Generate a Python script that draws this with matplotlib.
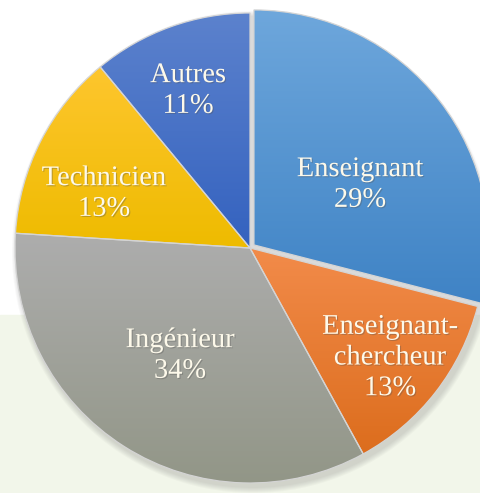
import numpy as np
import matplotlib.pyplot as plt
import matplotlib.patheffects as pe
from matplotlib.patches import Rectangle, Circle
from matplotlib.colors import LinearSegmentedColormap

labels = ['Enseignant', 'Enseignant-\nchercheur', 'Ingénieur', 'Technicien', 'Autres']
values = [29, 13, 34, 13, 11]
top_colors = ['#6ea7dc', '#f28b4a', '#adadad', '#fec62e', '#5c82cd']
bottom_colors = ['#3f83c5', '#dc6d1d', '#929687', '#eebb00', '#3462bf']

# label centres, in image pixels (x, y from top)
label_xy = [(360, 185), (390, 358), (180, 356), (104, 194), (188, 91)]

W, H = 481, 493
fig = plt.figure(figsize=(W / 100, H / 100), dpi=100)
fig.patches.append(Rectangle((0, 0), 1, (H - 315) / H, transform=fig.transFigure,
                             color='#f2f6ea', zorder=-5))
ax = fig.add_axes([0, 0, 1, 1])
ax.patch.set_alpha(0)

center = (250, H - 248)
radius = 235

# soft shadow
for k in range(6):
    ax.add_patch(Circle((center[0] + 3, center[1] - 4), radius + 1 + k, color='#808080',
                        alpha=0.05, lw=0, zorder=0.5))

wedges, _ = ax.pie(values, center=center, radius=radius, startangle=90, counterclock=False,
                   explode=[5, 0, 0, 0, 0],
                   wedgeprops=dict(edgecolor='#d4d4d4', linewidth=0.9))

grad = np.linspace(0, 1, 256).reshape(-1, 1)
for w, ct, cb in zip(wedges, top_colors, bottom_colors):
    verts = w.get_patch_transform().transform(w.get_path().vertices)
    x0, x1 = verts[:, 0].min(), verts[:, 0].max()
    y0, y1 = verts[:, 1].min(), verts[:, 1].max()
    cmap = LinearSegmentedColormap.from_list('g', [cb, ct])
    im = ax.imshow(grad, extent=(x0, x1, y0, y1), origin='lower', cmap=cmap,
                   aspect='auto', zorder=1, interpolation='bilinear')
    im.set_clip_path(w)
    w.set_facecolor('none')
    w.set_zorder(2)

for lab, v, (px, py) in zip(labels, values, label_xy):
    ax.text(px, H - py, f'{lab}\n{v}%', ha='center', va='center', color='#fdf9ea',
            fontsize=20.5, family='Liberation Serif', linespacing=1.3, zorder=4,
            path_effects=[pe.withSimplePatchShadow(offset=(0.8, -0.8), shadow_rgbFace='#555555', alpha=0.35)])

ax.set_xlim(0, W)
ax.set_ylim(0, H)
ax.set_aspect('equal')
ax.axis('off')

fig.savefig('out.png', dpi=100)
